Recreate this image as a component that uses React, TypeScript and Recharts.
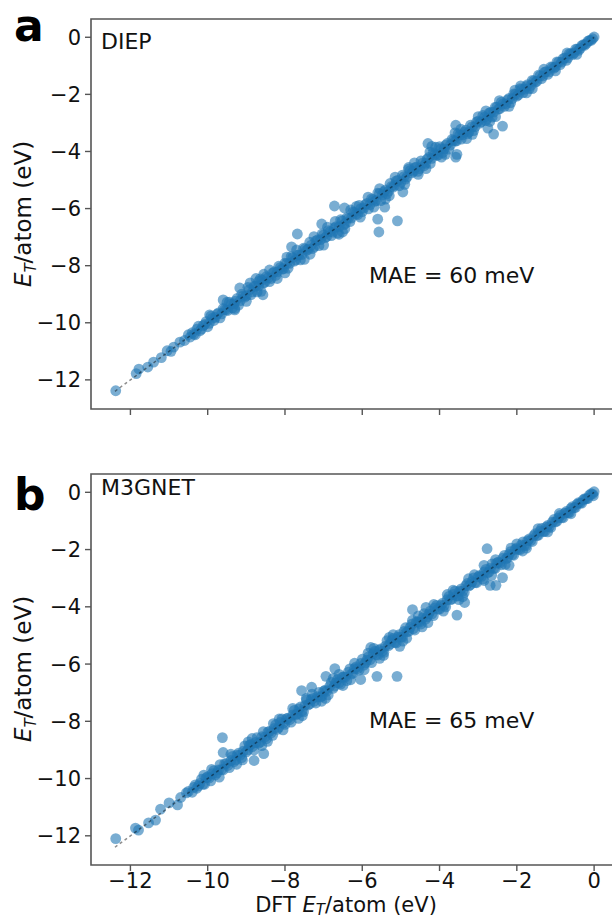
import React from 'react';
import { ScatterChart, Scatter, XAxis, YAxis, ReferenceLine, ReferenceArea } from 'recharts';

type Pt = [number, number];

// axis ticks shared by both panels (eV/atom)
const axisTicks = [-12, -10, -8, -6, -4, -2, 0];
const xDomain: [number, number] = [-13.02, 0.67];
const yDomain: [number, number] = [-13.02, 0.64];
const parityLine: Pt[] = [[-12.4, -12.4], [0, 0]];

// ---- panel a: DIEP ----
const diepTail: Pt[] = [
  [-12.38, -12.38], [-11.85, -11.78], [-11.78, -11.62], [-11.55, -11.55], [-11.4, -11.38],
  [-11.2, -11.22], [-11.05, -10.98], [-10.95, -11.0], [-10.88, -10.85], [-10.72, -10.68],
  [-10.6, -10.62], [-10.5, -10.42], [-10.45, -10.5],
];

const diepBand: Pt[] = [
  [-10.40, -10.35], [-10.32, -10.42], [-10.24, -10.12], [-10.16, -10.22], [-10.08, -10.06], [-10.00, -10.14],
  [-9.92, -9.77], [-9.84, -9.92], [-9.76, -9.70], [-9.68, -9.83], [-9.60, -9.50], [-9.52, -9.55],
  [-9.44, -9.28], [-9.36, -9.48], [-9.28, -9.24], [-9.20, -9.38], [-9.12, -9.00], [-9.04, -9.10],
  [-8.96, -8.76], [-8.88, -9.02], [-8.80, -8.72], [-8.72, -8.92], [-8.64, -8.46], [-8.56, -8.61],
  [-8.48, -8.38], [-8.40, -8.56], [-8.32, -8.26], [-8.24, -8.34], [-8.16, -8.02], [-8.08, -8.12],
  [-8.00, -7.91], [-7.92, -8.09], [-7.84, -7.68], [-7.76, -7.84], [-7.68, -7.63], [-7.60, -7.80],
  [-7.52, -7.39], [-7.44, -7.46], [-7.36, -7.18], [-7.28, -7.40], [-7.20, -7.13], [-7.12, -7.30],
  [-7.04, -6.89], [-6.96, -7.02], [-6.88, -6.77], [-6.80, -6.95], [-6.72, -6.68], [-6.64, -6.86],
  [-6.56, -6.39], [-6.48, -6.57], [-6.40, -6.32], [-6.32, -6.46], [-6.24, -6.12], [-6.16, -6.19],
  [-6.08, -5.89], [-6.00, -6.11], [-5.92, -5.86], [-5.84, -6.01], [-5.76, -5.66], [-5.68, -5.75],
  [-5.60, -5.46], [-5.52, -5.72], [-5.44, -5.41], [-5.36, -5.48], [-5.28, -5.12], [-5.20, -5.25],
  [-5.12, -5.03], [-5.04, -5.20], [-4.96, -4.83], [-4.88, -4.97], [-4.80, -4.62], [-4.72, -4.75],
  [-4.64, -4.57], [-4.56, -4.70], [-4.48, -4.33], [-4.40, -4.50], [-4.32, -4.27], [-4.24, -4.42],
  [-4.16, -4.04], [-4.08, -4.14], [-4.00, -3.83], [-3.92, -4.04], [-3.84, -3.78], [-3.76, -3.92],
  [-3.68, -3.58], [-3.60, -3.64], [-3.52, -3.38], [-3.44, -3.57], [-3.36, -3.32], [-3.28, -3.38],
  [-3.20, -3.08], [-3.12, -3.27], [-3.04, -2.96], [-2.96, -3.01], [-2.88, -2.74], [-2.80, -2.92],
  [-2.72, -2.66], [-2.64, -2.80], [-2.56, -2.45], [-2.48, -2.52], [-2.40, -2.27], [-2.32, -2.42],
  [-2.24, -2.19], [-2.16, -2.29], [-2.08, -1.98], [-2.00, -2.06], [-1.92, -1.80], [-1.84, -1.94],
  [-1.76, -1.72], [-1.68, -1.80], [-1.60, -1.51], [-1.52, -1.57], [-1.44, -1.33], [-1.36, -1.45],
  [-1.28, -1.22], [-1.20, -1.30], [-1.12, -1.04], [-1.04, -1.08], [-0.96, -0.86], [-0.88, -0.96],
  [-0.80, -0.75], [-0.72, -0.81], [-0.64, -0.57], [-0.56, -0.61], [-0.48, -0.42], [-0.40, -0.46],
  [-0.32, -0.29], [-0.24, -0.28], [-0.16, -0.14], [-0.08, -0.11], [0.00, 0.01],
];

const diepCore: Pt[] = [
  [-10.36, -10.40], [-10.28, -10.22], [-10.20, -10.28], [-10.12, -10.10], [-10.04, -9.96], [-9.96, -10.02],
  [-9.88, -9.84], [-9.80, -9.81], [-9.72, -9.65], [-9.64, -9.69], [-9.56, -9.53], [-9.48, -9.57],
  [-9.40, -9.35], [-9.32, -9.34], [-9.24, -9.15], [-9.16, -9.23], [-9.08, -9.06], [-9.00, -9.05],
  [-8.92, -8.84], [-8.84, -8.92], [-8.76, -8.72], [-8.68, -8.71], [-8.60, -8.51], [-8.52, -8.58],
  [-8.44, -8.43], [-8.36, -8.45], [-8.28, -8.22], [-8.20, -8.22], [-8.12, -8.07], [-8.04, -8.11],
  [-7.96, -7.93], [-7.88, -7.92], [-7.80, -7.72], [-7.72, -7.80], [-7.64, -7.62], [-7.56, -7.61],
  [-7.48, -7.41], [-7.40, -7.43], [-7.32, -7.28], [-7.24, -7.33], [-7.16, -7.10], [-7.08, -7.09],
  [-7.00, -6.92], [-6.92, -6.98], [-6.84, -6.81], [-6.76, -6.83], [-6.68, -6.63], [-6.60, -6.63],
  [-6.52, -6.43], [-6.44, -6.52], [-6.36, -6.34], [-6.28, -6.33], [-6.20, -6.13], [-6.12, -6.21],
  [-6.04, -6.00], [-5.96, -5.98], [-5.88, -5.82], [-5.80, -5.86], [-5.72, -5.69], [-5.64, -5.72],
  [-5.56, -5.48], [-5.48, -5.52], [-5.40, -5.35], [-5.32, -5.39], [-5.24, -5.22], [-5.16, -5.19],
  [-5.08, -5.01], [-5.00, -5.08], [-4.92, -4.88], [-4.84, -4.89], [-4.76, -4.67], [-4.68, -4.70],
  [-4.60, -4.55], [-4.52, -4.60], [-4.44, -4.41], [-4.36, -4.42], [-4.28, -4.21], [-4.20, -4.24],
  [-4.12, -4.10], [-4.04, -4.13], [-3.96, -3.90], [-3.88, -3.91], [-3.80, -3.72], [-3.72, -3.78],
  [-3.64, -3.61], [-3.56, -3.63], [-3.48, -3.43], [-3.40, -3.42], [-3.32, -3.25], [-3.24, -3.32],
  [-3.16, -3.14], [-3.08, -3.13], [-3.00, -2.94], [-2.92, -2.96], [-2.84, -2.80], [-2.76, -2.83],
  [-2.68, -2.63], [-2.60, -2.62], [-2.52, -2.45], [-2.44, -2.50], [-2.36, -2.33], [-2.28, -2.33],
  [-2.20, -2.14], [-2.12, -2.15], [-2.04, -2.00], [-1.96, -2.02], [-1.88, -1.83], [-1.80, -1.82],
  [-1.72, -1.66], [-1.64, -1.69], [-1.56, -1.53], [-1.48, -1.54], [-1.40, -1.35], [-1.32, -1.35],
  [-1.24, -1.20], [-1.16, -1.21], [-1.08, -1.05], [-1.00, -1.04], [-0.92, -0.87], [-0.84, -0.87],
  [-0.76, -0.72], [-0.68, -0.72], [-0.60, -0.57], [-0.52, -0.55], [-0.44, -0.42], [-0.36, -0.39],
  [-0.28, -0.26], [-0.20, -0.22], [-0.12, -0.11], [-0.04, -0.05],
];

const diepSpread: Pt[] = [
  [-9.95, -9.72], [-9.3, -9.55], [-8.9, -8.6], [-8.62, -8.9], [-8.55, -8.3], [-8.75, -8.45],
  [-8.68, -8.55], [-8.2, -8.45], [-7.95, -7.7], [-7.5, -7.78], [-7.25, -6.98], [-7.0, -7.28],
  [-6.7, -6.45], [-6.6, -6.9], [-6.3, -6.05], [-6.05, -6.3], [-5.85, -5.6], [-5.4, -5.67],
  [-5.15, -4.9], [-4.9, -5.15], [-4.65, -4.4], [-4.35, -4.6], [-4.1, -3.85], [-3.85, -4.1],
  [-3.6, -3.35], [-3.3, -3.55], [-3.0, -2.78], [-2.7, -2.95], [-2.45, -2.22], [-2.2, -2.42],
  [-1.9, -1.7], [-1.6, -1.8], [-1.3, -1.12], [-1.0, -1.18], [-0.7, -0.55], [-0.45, -0.6],
  [-9.5, -9.28], [-9.0, -9.25], [-8.4, -8.15], [-8.0, -8.25], [-7.7, -7.45], [-7.35, -7.6],
  [-6.9, -6.65], [-6.45, -6.7], [-6.15, -5.92], [-5.7, -5.95], [-5.55, -5.3], [-5.3, -5.55],
  [-4.8, -4.56], [-4.55, -4.8], [-4.25, -4.02], [-3.95, -4.2], [-3.45, -3.22], [-3.15, -3.4],
  [-2.8, -2.58], [-2.55, -2.78], [-2.05, -1.85], [-1.75, -1.95],
];

const diepOutliers: Pt[] = [
  [-3.58, -3.08], [-3.58, -4.2], [-3.55, -4.1], [-2.37, -3.11], [-2.6, -3.39], [-2.75, -3.18],
  [-4.3, -3.72], [-4.2, -3.82], [-4.95, -5.42], [-5.42, -5.95], [-5.6, -6.37], [-5.57, -6.82],
  [-5.09, -6.43], [-6.72, -5.91], [-6.46, -5.98], [-7.68, -6.89], [-7.83, -7.34], [-7.05, -6.54],
  [-6.51, -6.82], [-9.17, -8.78], [-8.57, -9.02], [-9.6, -9.2], [-9.3, -9.5],
];

// ---- panel b: M3GNET ----
const m3gTail: Pt[] = [
  [-12.38, -12.1], [-11.87, -11.73], [-11.79, -11.8], [-11.53, -11.55], [-11.35, -11.45],
  [-11.22, -11.07], [-11.0, -10.85], [-10.78, -10.92], [-10.7, -10.66], [-10.55, -10.5],
  [-10.5, -10.45],
];

const m3gBand: Pt[] = [
  [-10.40, -10.48], [-10.32, -10.22], [-10.24, -10.26], [-10.16, -10.02], [-10.08, -10.20], [-10.00, -9.94],
  [-9.92, -10.08], [-9.84, -9.72], [-9.76, -9.80], [-9.68, -9.51], [-9.60, -9.70], [-9.52, -9.48],
  [-9.44, -9.62], [-9.36, -9.23], [-9.28, -9.35], [-9.20, -9.11], [-9.12, -9.27], [-9.04, -8.86],
  [-8.96, -9.00], [-8.88, -8.81], [-8.80, -9.00], [-8.72, -8.57], [-8.64, -8.73], [-8.56, -8.36],
  [-8.48, -8.61], [-8.40, -8.35], [-8.32, -8.49], [-8.24, -8.12], [-8.16, -8.21], [-8.08, -7.92],
  [-8.00, -8.11], [-7.92, -7.89], [-7.84, -8.03], [-7.76, -7.62], [-7.68, -7.74], [-7.60, -7.50],
  [-7.52, -7.67], [-7.44, -7.25], [-7.36, -7.39], [-7.28, -7.20], [-7.20, -7.36], [-7.12, -6.99],
  [-7.04, -7.12], [-6.96, -6.91], [-6.88, -7.08], [-6.80, -6.64], [-6.72, -6.77], [-6.64, -6.54],
  [-6.56, -6.70], [-6.48, -6.45], [-6.40, -6.58], [-6.32, -6.17], [-6.24, -6.32], [-6.16, -6.10],
  [-6.08, -6.21], [-6.00, -5.83], [-5.92, -5.96], [-5.84, -5.75], [-5.76, -5.95], [-5.68, -5.56],
  [-5.60, -5.69], [-5.52, -5.47], [-5.44, -5.59], [-5.36, -5.18], [-5.28, -5.30], [-5.20, -5.10],
  [-5.12, -5.26], [-5.04, -4.97], [-4.96, -5.06], [-4.88, -4.73], [-4.80, -4.86], [-4.72, -4.61],
  [-4.64, -4.81], [-4.56, -4.52], [-4.48, -4.60], [-4.40, -4.24], [-4.32, -4.35], [-4.24, -4.15],
  [-4.16, -4.31], [-4.08, -3.95], [-4.00, -4.08], [-3.92, -3.87], [-3.84, -4.00], [-3.76, -3.64],
  [-3.68, -3.73], [-3.60, -3.45], [-3.52, -3.63], [-3.44, -3.37], [-3.36, -3.50], [-3.28, -3.18],
  [-3.20, -3.23], [-3.12, -2.99], [-3.04, -3.16], [-2.96, -2.90], [-2.88, -3.03], [-2.80, -2.69],
  [-2.72, -2.79], [-2.64, -2.50], [-2.56, -2.66], [-2.48, -2.44], [-2.40, -2.53], [-2.32, -2.20],
  [-2.24, -2.29], [-2.16, -2.07], [-2.08, -2.20], [-2.00, -1.94], [-1.92, -2.00], [-1.84, -1.73],
  [-1.76, -1.86], [-1.68, -1.63], [-1.60, -1.72], [-1.52, -1.44], [-1.44, -1.50], [-1.36, -1.26],
  [-1.28, -1.37], [-1.20, -1.16], [-1.12, -1.23], [-1.04, -0.95], [-0.96, -1.01], [-0.88, -0.81],
  [-0.80, -0.89], [-0.72, -0.67], [-0.64, -0.71], [-0.56, -0.50], [-0.48, -0.53], [-0.40, -0.36],
  [-0.32, -0.38], [-0.24, -0.22], [-0.16, -0.21], [-0.08, -0.05], [0.00, 0.02], [-0.02, -0.12],
];

const m3gCore: Pt[] = [
  [-10.36, -10.31], [-10.28, -10.34], [-10.20, -10.17], [-10.12, -10.20], [-10.04, -9.97], [-9.96, -9.98],
  [-9.88, -9.83], [-9.80, -9.87], [-9.72, -9.70], [-9.64, -9.68], [-9.56, -9.48], [-9.48, -9.54],
  [-9.40, -9.37], [-9.32, -9.41], [-9.24, -9.18], [-9.16, -9.18], [-9.08, -9.04], [-9.00, -9.07],
  [-8.92, -8.83], [-8.84, -8.88], [-8.76, -8.74], [-8.68, -8.76], [-8.60, -8.54], [-8.52, -8.55],
  [-8.44, -8.37], [-8.36, -8.41], [-8.28, -8.25], [-8.20, -8.28], [-8.12, -8.04], [-8.04, -8.06],
  [-7.96, -7.91], [-7.88, -7.94], [-7.80, -7.78], [-7.72, -7.77], [-7.64, -7.57], [-7.56, -7.64],
  [-7.48, -7.44], [-7.40, -7.43], [-7.32, -7.24], [-7.24, -7.30], [-7.16, -7.14], [-7.08, -7.15],
  [-7.00, -6.95], [-6.92, -6.95], [-6.84, -6.77], [-6.76, -6.85], [-6.68, -6.65], [-6.60, -6.65],
  [-6.52, -6.46], [-6.44, -6.46], [-6.36, -6.28], [-6.28, -6.35], [-6.20, -6.16], [-6.12, -6.16],
  [-6.04, -5.98], [-5.96, -6.04], [-5.88, -5.86], [-5.80, -5.85], [-5.72, -5.64], [-5.64, -5.67],
  [-5.56, -5.51], [-5.48, -5.55], [-5.40, -5.37], [-5.32, -5.36], [-5.24, -5.17], [-5.16, -5.24],
  [-5.08, -5.06], [-5.00, -5.05], [-4.92, -4.86], [-4.84, -4.87], [-4.76, -4.72], [-4.68, -4.76],
  [-4.60, -4.53], [-4.52, -4.54], [-4.44, -4.39], [-4.36, -4.43], [-4.28, -4.25], [-4.20, -4.25],
  [-4.12, -4.04], [-4.04, -4.08], [-3.96, -3.94], [-3.88, -3.95], [-3.80, -3.75], [-3.72, -3.75],
  [-3.64, -3.57], [-3.56, -3.62], [-3.48, -3.45], [-3.40, -3.45], [-3.32, -3.26], [-3.24, -3.27],
  [-3.16, -3.12], [-3.08, -3.15], [-3.00, -2.95], [-2.92, -2.94], [-2.84, -2.78], [-2.76, -2.81],
  [-2.68, -2.65], [-2.60, -2.66], [-2.52, -2.47], [-2.44, -2.47], [-2.36, -2.30], [-2.28, -2.32],
  [-2.20, -2.17], [-2.12, -2.18], [-2.04, -1.99], [-1.96, -1.99], [-1.88, -1.84], [-1.80, -1.85],
  [-1.72, -1.69], [-1.64, -1.68], [-1.56, -1.51], [-1.48, -1.51], [-1.40, -1.36], [-1.32, -1.37],
  [-1.24, -1.21], [-1.16, -1.20], [-1.08, -1.04], [-1.00, -1.03], [-0.92, -0.89], [-0.84, -0.88],
  [-0.76, -0.73], [-0.68, -0.71], [-0.60, -0.56], [-0.52, -0.54], [-0.44, -0.41], [-0.36, -0.38],
  [-0.28, -0.26], [-0.20, -0.23], [-0.12, -0.10], [-0.04, -0.06],
];

const m3gSpread: Pt[] = [
  [-10.1, -9.88], [-9.7, -9.95], [-9.4, -9.15], [-9.1, -9.35], [-8.85, -8.6], [-8.6, -8.85],
  [-8.3, -8.08], [-8.05, -8.3], [-7.8, -7.55], [-7.55, -7.8], [-7.3, -7.05], [-7.05, -7.3],
  [-6.75, -6.5], [-6.5, -6.75], [-6.2, -5.97], [-5.95, -6.2], [-5.7, -5.45], [-5.45, -5.7],
  [-5.2, -4.97], [-4.95, -5.2], [-4.7, -4.47], [-4.45, -4.7], [-4.15, -3.92], [-3.9, -4.15],
  [-3.65, -3.42], [-3.4, -3.65], [-3.1, -2.88], [-2.85, -3.08], [-2.55, -2.35], [-2.3, -2.52],
  [-2.0, -1.8], [-1.75, -1.95], [-1.45, -1.27], [-1.2, -1.38], [-0.9, -0.74], [-0.6, -0.75],
  [-9.9, -9.68], [-9.25, -9.5], [-8.95, -8.72], [-8.45, -8.7], [-8.15, -7.92], [-7.65, -7.9],
  [-7.45, -7.2], [-6.95, -7.2], [-6.6, -6.36], [-6.3, -6.55], [-5.85, -5.62], [-5.55, -5.8],
  [-5.3, -5.07], [-4.85, -5.1], [-4.55, -4.32], [-4.3, -4.55], [-3.8, -3.57], [-3.5, -3.75],
  [-3.25, -3.02], [-2.65, -2.9], [-2.15, -1.95], [-1.85, -2.05],
];

const m3gOutliers: Pt[] = [
  [-2.77, -1.97], [-2.37, -2.98], [-2.69, -3.25], [-2.54, -3.25], [-2.85, -2.55], [-2.2, -2.55],
  [-3.55, -4.29], [-3.35, -3.85], [-4.7, -4.1], [-4.35, -4.02], [-5.03, -5.38], [-6.04, -6.54],
  [-5.62, -6.43], [-5.1, -6.43], [-5.78, -5.42], [-6.71, -6.16], [-6.94, -6.43], [-7.57, -6.93],
  [-7.31, -6.81], [-9.62, -8.57], [-9.6, -9.09], [-8.8, -9.37], [-8.55, -9.13],
];

const diepPoints = [...diepTail, ...diepBand, ...diepCore, ...diepSpread, ...diepOutliers];
const m3gPoints = [...m3gTail, ...m3gBand, ...m3gCore, ...m3gSpread, ...m3gOutliers];

const font = 'DejaVu Sans, sans-serif';
const frameColor = '#555';
const textColor = '#111';
const tickStyle = { fontSize: 21, fill: textColor, fontFamily: font };

const fmt = (v: number) => (v < 0 ? `\u2212${Math.abs(v)}` : `${v}`);

const Dot = (props: any) => (
  <circle cx={props.cx} cy={props.cy} r={5.4} fill="#1f77b4" fillOpacity={0.6} />
);

interface PanelProps {
  points: Pt[];
  top: number;
  height: number;
  marginTop: number;
  showXLabels: boolean;
}

const Panel: React.FC<PanelProps> = ({ points, top, height, marginTop, showXLabels }) => {
  const data = points.map(([x, y]) => ({ x, y }));
  return (
    <div style={{ position: 'absolute', left: 0, top }}>
      <ScatterChart width={640} height={height} margin={{ top: marginTop, right: 20, bottom: 0, left: 0 }}>
        <XAxis
          type="number"
          dataKey="x"
          domain={xDomain}
          ticks={axisTicks}
          interval={0}
          allowDataOverflow
          height={showXLabels ? 55 : 11}
          tickFormatter={showXLabels ? fmt : () => ''}
          tick={tickStyle}
          tickSize={6}
          tickMargin={2}
          tickLine={{ stroke: frameColor, strokeWidth: 1.4 }}
          axisLine={false}
        />
        <YAxis
          type="number"
          dataKey="y"
          domain={yDomain}
          ticks={axisTicks}
          interval={0}
          allowDataOverflow
          width={91}
          tickFormatter={fmt}
          tick={tickStyle}
          tickSize={6}
          tickMargin={4}
          tickLine={{ stroke: frameColor, strokeWidth: 1.4 }}
          axisLine={false}
        />
        <ReferenceArea
          x1={xDomain[0]}
          x2={xDomain[1]}
          y1={yDomain[0]}
          y2={yDomain[1]}
          fill="none"
          fillOpacity={0}
          stroke={frameColor}
          strokeWidth={1.6}
        />
        <Scatter data={data} shape={Dot} isAnimationActive={false} />
        <ReferenceLine
          segment={parityLine.map(([x, y]) => ({ x, y }))}
          stroke="#000"
          strokeOpacity={0.45}
          strokeWidth={1.5}
          strokeDasharray="3 3"
          zIndex={1000}
        />
      </ScatterChart>
    </div>
  );
};

const AxisTitle = ({ prefix, sub = 5 }: { prefix?: string; sub?: number }) => (
  <>
    {prefix}
    <tspan fontStyle="italic">E</tspan>
    <tspan fontStyle="italic" fontSize={15} dy={sub}>T</tspan>
    <tspan dy={-sub}>/atom (eV)</tspan>
  </>
);

export default function App() {
  return (
    <div
      style={{
        position: 'absolute',
        left: 0,
        top: 0,
        width: 612,
        height: 920,
        overflow: 'hidden',
        background: '#fff',
        fontFamily: font,
      }}
    >
      <Panel points={diepPoints} top={0} height={420} marginTop={19} showXLabels={false} />
      <Panel points={m3gPoints} top={440} height={480} marginTop={34} showXLabels />
      <svg
        width={612}
        height={920}
        style={{ position: 'absolute', left: 0, top: 0, pointerEvents: 'none' }}
        fontFamily={font}
      >
        <text x={14} y={41} fontSize={44} fontWeight="bold" fill="#000">a</text>
        <text x={14} y={510} fontSize={44} fontWeight="bold" fill="#000">b</text>
        <text x={101} y={49} fontSize={22} fill={textColor}>DIEP</text>
        <text x={101} y={495} fontSize={22} fill={textColor}>M3GNET</text>
        <text x={369} y={283} fontSize={22} fill={textColor}>MAE = 60 meV</text>
        <text x={369} y={728} fontSize={22} fill={textColor}>MAE = 65 meV</text>
        <text transform="translate(31,214) rotate(-90)" textAnchor="middle" fontSize={23} fill={textColor}>
          <AxisTitle />
        </text>
        <text transform="translate(31,669) rotate(-90)" textAnchor="middle" fontSize={23} fill={textColor}>
          <AxisTitle />
        </text>
        <text x={346} y={912} textAnchor="middle" fontSize={21} fill={textColor}>
          <AxisTitle prefix="DFT " sub={3} />
        </text>
      </svg>
    </div>
  );
}
